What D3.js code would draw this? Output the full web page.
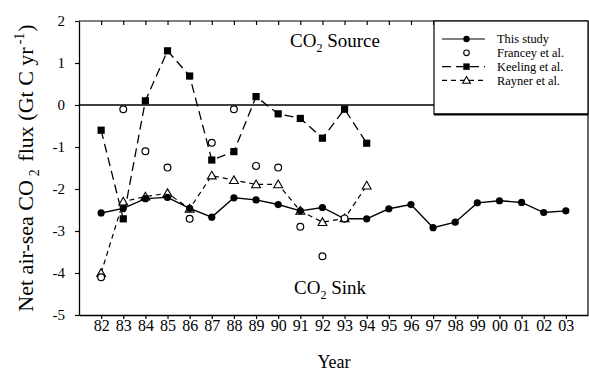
<!DOCTYPE html>
<html>
<head>
<meta charset="utf-8">
<script src="https://cdn.jsdelivr.net/npm/d3@7"></script>
<style>
  html, body { margin: 0; padding: 0; background: #fff; }
  svg { display: block; }
</style>
</head>
<body>
<svg id="chart" width="589" height="371"></svg>
<script>
// ---- Data ----
const years = ["82","83","84","85","86","87","88","89","90","91","92","93","94","95","96","97","98","99","00","01","02","03"];
const thisStudy = [-2.57,-2.46,-2.23,-2.2,-2.46,-2.67,-2.21,-2.26,-2.37,-2.52,-2.44,-2.71,-2.71,-2.47,-2.37,-2.92,-2.79,-2.33,-2.28,-2.32,-2.56,-2.52];
const francey   = [-4.1,-0.1,-1.1,-1.49,-2.71,-0.9,-0.1,-1.45,-1.49,-2.9,-3.6,-2.7];            // 82–93
const keeling   = [-0.6,-2.71,0.1,1.29,0.69,-1.31,-1.11,0.2,-0.21,-0.32,-0.79,-0.1,-0.91];      // 82–94
const rayner    = [-4.0,-2.3,-2.18,-2.1,-2.47,-1.68,-1.79,-1.89,-1.89,-2.52,-2.79,-2.7,-1.92];  // 82–94
const yTicks = [2,1,0,-1,-2,-3,-4,-5];
const legendLabels = ["This study","Francey et al.","Keeling et al.","Rayner et al."];

// ---- Layout ----
const FONT = '"Liberation Serif", "DejaVu Serif", "Times New Roman", serif';
const L = 79, R = 588, T = 21, B = 315;
const svg = d3.select("#chart").attr("font-family", FONT);

const x = d3.scalePoint().domain(years).range([L, R]).padding(1);
const y = d3.scaleLinear().domain([-5, 2]).range([B, T]);

const toPts = arr => arr.map((v, i) => ({yr: years[i], v}));

// ---- Frame & axes ----
svg.append("line").attr("x1", R).attr("x2", R).attr("y1", T).attr("y2", B)
  .attr("stroke", "#000").attr("stroke-width", 1.2);
svg.append("line").attr("x1", L).attr("x2", R).attr("y1", T).attr("y2", T)
  .attr("stroke", "#000").attr("stroke-width", 1.2);

const gTop = svg.append("g").attr("transform", `translate(0,${T})`)
  .call(d3.axisTop(x).tickSize(-4).tickFormat(""));
gTop.select(".domain").remove();

const gx = svg.append("g").attr("transform", `translate(0,${B})`)
  .call(d3.axisBottom(x).tickSize(4).tickPadding(1).tickSizeOuter(0));

const gy = svg.append("g").attr("transform", `translate(${L},0)`)
  .call(d3.axisLeft(y).tickValues(yTicks).tickSize(4).tickPadding(10).tickSizeOuter(0)
    .tickFormat(d => d < 0 ? "-" + Math.abs(d) : String(d)));

[gx, gy, gTop].forEach(g => {
  g.attr("font-family", FONT);
  g.selectAll("line").attr("stroke", "#000").attr("stroke-width", 1.2);
  g.selectAll(".domain").attr("stroke", "#000").attr("stroke-width", 1.3);
  g.selectAll("text").attr("fill", "#000");
});
gx.attr("font-size", 16);
gy.attr("font-size", 15);

// zero line
svg.append("line").attr("x1", L).attr("x2", R).attr("y1", y(0)).attr("y2", y(0))
  .attr("stroke", "#000").attr("stroke-width", 1.3);

// ---- Series ----
const line = d3.line().x(d => x(d.yr)).y(d => y(d.v));

// Rayner (short dashes, open triangles)
const rP = toPts(rayner);
svg.append("path").attr("d", line(rP)).attr("fill", "none")
  .attr("stroke", "#000").attr("stroke-width", 1.2).attr("stroke-dasharray", "5,4");
const tri = d3.symbol().type(d3.symbolTriangle).size(34);
svg.selectAll(".tri").data(rP).join("path")
  .attr("transform", d => `translate(${x(d.yr)},${y(d.v) + 0.8})`)
  .attr("d", tri).attr("fill", "#fff").attr("stroke", "#000").attr("stroke-width", 1.1);

// This study (solid, filled circles)
const tP = toPts(thisStudy);
svg.append("path").attr("d", line(tP)).attr("fill", "none")
  .attr("stroke", "#000").attr("stroke-width", 1.4);
svg.selectAll(".dot").data(tP).join("circle")
  .attr("cx", d => x(d.yr)).attr("cy", d => y(d.v)).attr("r", 3.6).attr("fill", "#000");

// Keeling (long dashes, filled squares)
const kP = toPts(keeling);
svg.append("path").attr("d", line(kP)).attr("fill", "none")
  .attr("stroke", "#000").attr("stroke-width", 1.3).attr("stroke-dasharray", "9,5");
svg.selectAll(".sq").data(kP).join("rect")
  .attr("x", d => x(d.yr) - 3.6).attr("y", d => y(d.v) - 3.6)
  .attr("width", 7.2).attr("height", 7.2).attr("fill", "#000");

// Francey (open circles)
const fP = toPts(francey);
svg.selectAll(".oc").data(fP).join("circle")
  .attr("cx", d => x(d.yr)).attr("cy", d => y(d.v)).attr("r", 3.4)
  .attr("fill", "#fff").attr("stroke", "#000").attr("stroke-width", 1.2);

// ---- Annotations ----
function co2Label(cx, by, rest) {
  const t = svg.append("text").attr("x", cx).attr("y", by)
    .attr("text-anchor", "middle").attr("font-size", 19).attr("fill", "#000");
  t.append("tspan").text("CO");
  t.append("tspan").attr("font-size", 12).attr("dy", 5).text("2");
  t.append("tspan").attr("dy", -5).text(" " + rest);
}
co2Label(335, 47, "Source");
co2Label(330, 294, "Sink");

// x title
svg.append("text").attr("x", 334).attr("y", 368).attr("text-anchor", "middle")
  .attr("font-size", 18).attr("fill", "#000").text("Year");

// y title
const yt = svg.append("text").attr("transform", "translate(33,168) rotate(-90)")
  .attr("text-anchor", "middle").attr("font-size", 22).attr("fill", "#000");
yt.append("tspan").text("Net air-sea CO");
yt.append("tspan").attr("font-size", 14).attr("dx", 4).attr("dy", 6).text("2");
yt.append("tspan").attr("dx", 2).attr("dy", -6).text(" flux (Gt C yr");
yt.append("tspan").attr("font-size", 14).attr("dx", 3).attr("dy", -9).text("-1");
yt.append("tspan").attr("dx", 1).attr("dy", 9).text(")");

// ---- Legend ----
const lg = svg.append("g");
lg.append("rect").attr("x", 434).attr("y", T).attr("width", R - 434).attr("height", 114 - T)
  .attr("fill", "#fff").attr("stroke", "#000").attr("stroke-width", 1.2);
lg.append("line").attr("x1", 434).attr("x2", R).attr("y1", 114.5).attr("y2", 114.5)
  .attr("stroke", "#000").attr("stroke-width", 2);
const rows = [39, 52.8, 66.6, 80.4];
const lx1 = 442, lx2 = 485, mx = 466.5, tx = 497;
legendLabels.forEach((lab, i) => {
  const ry = rows[i];
  if (i !== 1) {
    lg.append("line").attr("x1", lx1).attr("x2", lx2).attr("y1", ry).attr("y2", ry)
      .attr("stroke", "#000").attr("stroke-width", 1.2)
      .attr("stroke-dasharray", i === 0 ? null : (i === 2 ? "9,5" : "5,4"));
  }
  if (i === 0) lg.append("circle").attr("cx", mx).attr("cy", ry).attr("r", 3.2).attr("fill", "#000");
  if (i === 1) lg.append("circle").attr("cx", mx).attr("cy", ry).attr("r", 2.8)
      .attr("fill", "#fff").attr("stroke", "#000").attr("stroke-width", 1.1);
  if (i === 2) lg.append("rect").attr("x", mx - 3.2).attr("y", ry - 3.2).attr("width", 6.4).attr("height", 6.4).attr("fill", "#000");
  if (i === 3) lg.append("path").attr("transform", `translate(${mx},${ry + 0.6})`)
      .attr("d", d3.symbol().type(d3.symbolTriangle).size(26))
      .attr("fill", "#fff").attr("stroke", "#000").attr("stroke-width", 1.1);
  lg.append("text").attr("x", tx).attr("y", ry + 4.3).attr("font-size", 12.4)
    .attr("fill", "#000").text(lab);
});
</script>
</body>
</html>
